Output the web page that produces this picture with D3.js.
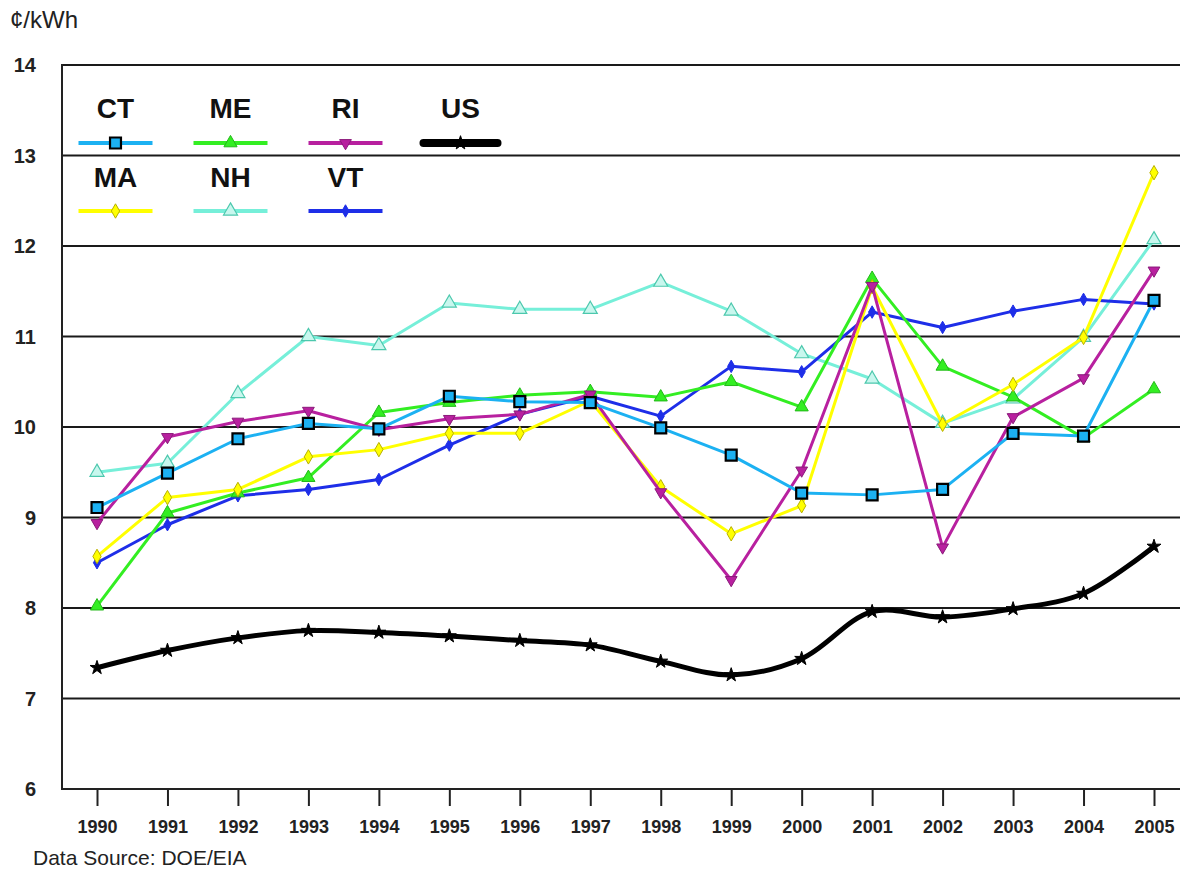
<!DOCTYPE html>
<html>
<head>
<meta charset="utf-8">
<script src="https://cdn.jsdelivr.net/npm/d3@7"></script>
<style>
  html, body { margin: 0; padding: 0; background: #fff; }
  svg { display: block; font-family: "Liberation Sans", Arial, sans-serif; }
</style>
</head>
<body>
<svg id="chart" width="1180" height="871"></svg>
<script>
// Average retail electricity price, New England states vs. US (cents per kWh)
const years = [1990, 1991, 1992, 1993, 1994, 1995, 1996, 1997, 1998, 1999, 2000, 2001, 2002, 2003, 2004, 2005];
const yTicks = [6, 7, 8, 9, 10, 11, 12, 13, 14];

const CT = [9.11, 9.49, 9.87, 10.04, 9.98, 10.34, 10.28, 10.27, 9.99, 9.69, 9.27, 9.25, 9.31, 9.93, 9.90, 11.40];
const ME = [8.02, 9.05, 9.27, 9.44, 10.16, 10.27, 10.35, 10.39, 10.33, 10.50, 10.22, 11.64, 10.67, 10.33, 9.88, 10.42];
const RI = [8.94, 9.89, 10.06, 10.18, 9.97, 10.09, 10.14, 10.36, 9.28, 8.31, 9.52, 11.56, 8.67, 10.11, 10.54, 11.73];
const US = [7.34, 7.53, 7.67, 7.75, 7.73, 7.69, 7.64, 7.59, 7.41, 7.26, 7.44, 7.96, 7.90, 7.99, 8.16, 8.68];
const MA = [8.57, 9.22, 9.31, 9.67, 9.75, 9.93, 9.93, 10.29, 9.34, 8.82, 9.13, 11.55, 10.03, 10.47, 10.99, 12.81];
const NH = [9.50, 9.60, 10.37, 11.00, 10.90, 11.37, 11.30, 11.30, 11.60, 11.28, 10.81, 10.53, 10.04, 10.31, 10.99, 12.07];
const VT = [8.50, 8.92, 9.24, 9.31, 9.42, 9.80, 10.14, 10.34, 10.12, 10.67, 10.61, 11.27, 11.10, 11.28, 11.41, 11.36];

const series = [
  { name: "CT", values: CT, color: "#1cb1f2", width: 3, symbol: d3.symbolSquare, size: 120, fill: "#1cb1f2", stroke: "#000", sw: 2.2 },
  { name: "ME", values: ME, color: "#33ee22", width: 3, symbol: d3.symbolTriangle, size: 75, fill: "#33ee22", stroke: "#22b818", sw: 1 },
  { name: "RI", values: RI, color: "#b8209f", width: 3, symbol: d3.symbolTriangle, size: 60, fill: "#b8209f", stroke: "#8a1a7a", sw: 1, rotate: 180 },
  { name: "US", values: US, color: "#000", width: 5, symbol: d3.symbolStar, size: 60, fill: "#000", stroke: "#000", sw: 1, smooth: true },
  { name: "MA", values: MA, color: "#ffff00", width: 3, symbol: d3.symbolDiamond, size: 60, fill: "#ffff00", stroke: "#b8b000", sw: 1 },
  { name: "NH", values: NH, color: "#76efd9", width: 3, symbol: d3.symbolTriangle, size: 85, fill: "#c8f7ee", stroke: "#4cc8ad", sw: 1.2 },
  { name: "VT", values: VT, color: "#1e2ee8", width: 3, symbol: d3.symbolDiamond, size: 45, fill: "#1e2ee8", stroke: "#1e2ee8", sw: 1 }
];

// draw order: states first, national average on top
const drawOrder = ["NH", "VT", "ME", "MA", "RI", "CT", "US"];

const svg = d3.select("#chart");
const plotLeft = 62, plotRight = 1180, plotTop = 65, plotBottom = 789;

const x = d3.scalePoint().domain(years).range([97, 1154]);
const y = d3.scaleLinear().domain([6, 14]).range([plotBottom, plotTop]);

// horizontal gridlines
svg.append("g").selectAll("line")
  .data(yTicks.filter(t => t > 6))
  .join("line")
  .attr("x1", plotLeft).attr("x2", plotRight)
  .attr("y1", d => y(d)).attr("y2", d => y(d))
  .attr("stroke", "#1a1a1a").attr("stroke-width", 2);

// y axis labels
svg.append("g").selectAll("text")
  .data(yTicks)
  .join("text")
  .attr("x", 36).attr("y", d => y(d) + 7)
  .attr("text-anchor", "end")
  .attr("font-size", 20).attr("font-weight", "bold").attr("fill", "#222")
  .text(d => d);

// x axis with downward ticks
const xAxis = svg.append("g")
  .attr("transform", `translate(0,${plotBottom})`)
  .call(d3.axisBottom(x).tickSize(17).tickPadding(14).tickSizeOuter(0));
xAxis.select(".domain").remove();
xAxis.selectAll(".tick line").attr("stroke", "#222").attr("stroke-width", 2);
xAxis.selectAll(".tick text")
  .attr("font-family", "Liberation Sans, Arial, sans-serif")
  .attr("font-size", 18).attr("font-weight", "bold").attr("fill", "#222");

svg.append("line")
  .attr("x1", plotLeft).attr("x2", plotRight).attr("y1", plotBottom).attr("y2", plotBottom)
  .attr("stroke", "#222").attr("stroke-width", 2);
svg.append("line")
  .attr("x1", plotLeft).attr("x2", plotLeft).attr("y1", plotTop - 1).attr("y2", plotBottom + 1)
  .attr("stroke", "#222").attr("stroke-width", 2);

// unit label and source note
svg.append("text").attr("x", 10).attr("y", 28)
  .attr("font-size", 24).attr("fill", "#222").text("¢/kWh");
svg.append("text").attr("x", 33).attr("y", 865)
  .attr("font-size", 21).attr("fill", "#222").text("Data Source: DOE/EIA");

// series lines and markers
const byName = Object.fromEntries(series.map(s => [s.name, s]));
const plot = svg.append("g");

function marker(sel, s) {
  sel.attr("d", d3.symbol().type(s.symbol).size(s.size))
    .attr("fill", s.fill).attr("stroke", s.stroke).attr("stroke-width", s.sw);
}

drawOrder.forEach(name => {
  const s = byName[name];
  const pts = years.map((yr, i) => [x(yr), y(s.values[i])]);
  const line = d3.line().curve(s.smooth ? d3.curveCatmullRom.alpha(0.5) : d3.curveLinear);
  plot.append("path")
    .attr("d", line(pts))
    .attr("fill", "none")
    .attr("stroke", s.color)
    .attr("stroke-width", s.width)
    .attr("stroke-linejoin", "round");
  plot.append("g").selectAll("path")
    .data(pts)
    .join("path")
    .attr("transform", d => `translate(${d[0]},${d[1]})` + (s.rotate ? ` rotate(${s.rotate})` : ""))
    .call(marker, s);
});

// legend: two rows of four / three entries
const legendRows = [["CT", "ME", "RI", "US"], ["MA", "NH", "VT"]];
const legend = svg.append("g");
legendRows.forEach((row, r) => {
  row.forEach((name, c) => {
    const s = byName[name];
    const cx = 115.5 + c * 115;
    const ty = 118 + r * 69;
    const ly = 143 + r * 68;
    legend.append("text")
      .attr("x", cx).attr("y", ty)
      .attr("text-anchor", "middle")
      .attr("font-size", 28).attr("font-weight", "bold").attr("fill", "#111")
      .text(name);
    legend.append("line")
      .attr("x1", cx - 37).attr("x2", cx + 37)
      .attr("y1", ly).attr("y2", ly)
      .attr("stroke", s.color)
      .attr("stroke-width", name === "US" ? 8 : 4)
      .attr("stroke-linecap", name === "US" ? "round" : "butt");
    legend.append("path")
      .attr("transform", `translate(${cx},${ly})` + (s.rotate ? ` rotate(${s.rotate})` : ""))
      .call(marker, s);
  });
});
</script>
</body>
</html>
